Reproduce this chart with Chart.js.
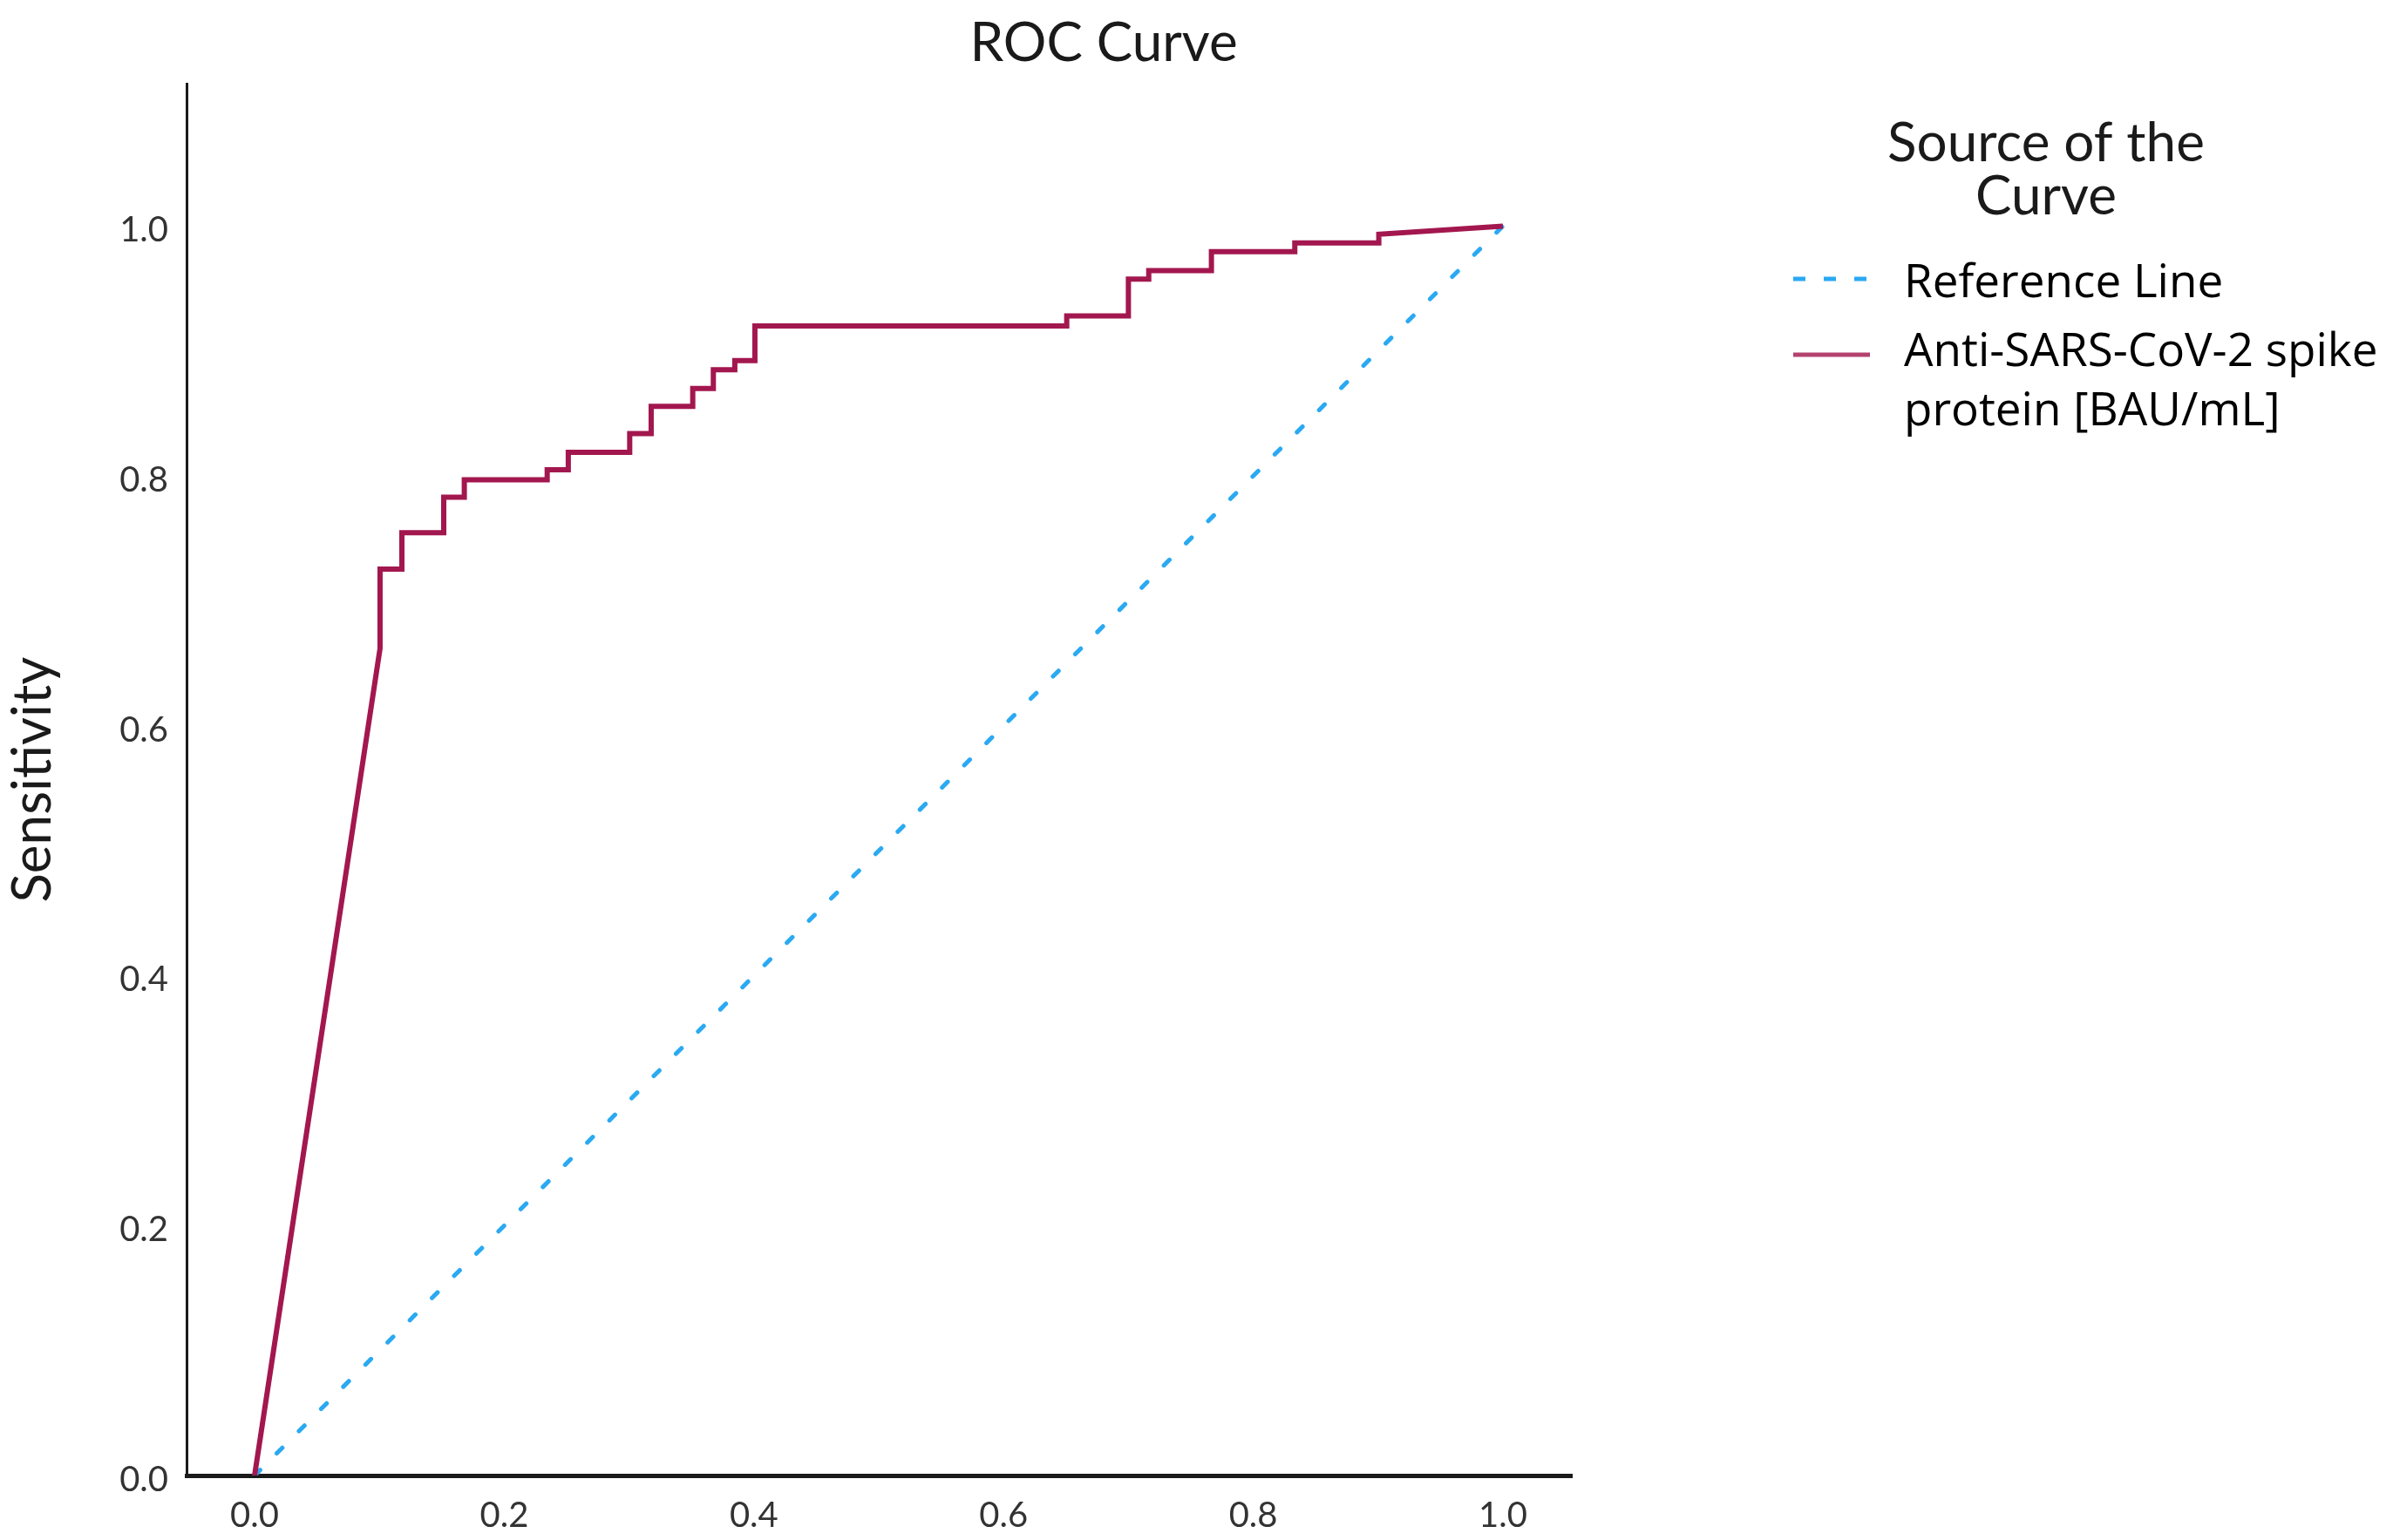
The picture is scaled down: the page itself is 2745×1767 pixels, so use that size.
<!DOCTYPE html>
<html>
<head>
<meta charset="utf-8">
<script src="https://cdn.jsdelivr.net/npm/chart.js@4.4.1/dist/chart.umd.min.js"></script>
<style>
  html, body { margin: 0; padding: 0; background: #fff; }
  #wrap { position: relative; width: 2745px; height: 1767px; }
</style>
</head>
<body>
<div id="wrap"><canvas id="roc"></canvas></div>
<script>
// ROC curve (1 - specificity, sensitivity)
const fpr = [0, 0.1005, 0.1005, 0.118, 0.118, 0.1515, 0.1515, 0.168, 0.168, 0.2344, 0.2344, 0.2513, 0.2513,
  0.3005, 0.3005, 0.3177, 0.3177, 0.351, 0.351, 0.3675, 0.3675, 0.3847, 0.3847, 0.4008, 0.4008,
  0.6506, 0.6506, 0.700, 0.700, 0.7163, 0.7163, 0.7665, 0.7665, 0.8333, 0.8333, 0.9006, 0.9006, 1.0];
const tpr = [0, 0.662, 0.7255, 0.7255, 0.7545, 0.7545, 0.783, 0.783, 0.797, 0.797, 0.805, 0.805, 0.819,
  0.819, 0.834, 0.834, 0.8557, 0.8557, 0.870, 0.870, 0.885, 0.885, 0.8924, 0.8924, 0.920,
  0.920, 0.928, 0.928, 0.9575, 0.9575, 0.9644, 0.9644, 0.9796, 0.9796, 0.9865, 0.9865, 0.9935, 1.0];
const refX = [0, 1];
const refY = [0, 1];

const xTicks = [0, 0.2, 0.4, 0.6, 0.8, 1.0];
const yTicks = [0, 0.2, 0.4, 0.6, 0.8, 1.0];

const legendTitle = ['Source of the', 'Curve'];
const refLabel = ['Reference Line'];
const curveLabel = ['Anti-SARS-CoV-2 spike', 'protein [BAU/mL]'];

const curveColor = '#a3174f';
const refColor = '#2ba9f2';

const toPoints = (xs, ys) => xs.map((x, i) => ({x: x, y: ys[i]}));

// legend drawn by hand on the right, SPSS style
const sideLegend = {
  id: 'sideLegend',
  afterDraw(chart) {
    const ctx = chart.ctx;
    ctx.save();
    ctx.fillStyle = '#1a1a1a';
    ctx.textBaseline = 'middle';
    ctx.font = '62px Lato';
    ctx.textAlign = 'center';
    ctx.fillText(legendTitle[0], 2347, 165);
    ctx.fillText(legendTitle[1], 2347, 226);

    ctx.font = '53px "Open Sans"';
    ctx.textAlign = 'left';
    ctx.fillStyle = '#000';

    // reference line sample
    ctx.strokeStyle = refColor;
    ctx.lineWidth = 5;
    ctx.setLineDash([14, 21]);
    ctx.beginPath();
    ctx.moveTo(2057, 320);
    ctx.lineTo(2146, 320);
    ctx.stroke();
    ctx.fillText(refLabel[0], 2184, 326);

    // curve sample
    ctx.setLineDash([]);
    ctx.strokeStyle = '#b3426f';
    ctx.lineWidth = 5;
    ctx.beginPath();
    ctx.moveTo(2057, 407);
    ctx.lineTo(2145, 407);
    ctx.stroke();
    curveLabel.forEach((t, i) => ctx.fillText(t, 2184, 405 + i * 68));
    ctx.restore();
  }
};

const ctx = document.getElementById('roc').getContext('2d');
const chart = new Chart(ctx, {
  type: 'scatter',
  data: {
    datasets: [{
      label: curveLabel.join(' '),
      data: toPoints(fpr, tpr),
      showLine: true,
      borderColor: curveColor,
      borderWidth: 6,
      borderJoinStyle: 'miter',
      pointRadius: 0,
      tension: 0,
      order: 0,
      xAxisID: 'x',
      yAxisID: 'y'
    }, {
      label: refLabel[0],
      data: toPoints(refX, refY),
      showLine: true,
      borderColor: refColor,
      borderWidth: 5,
      borderCapStyle: 'round',
      borderDash: [9, 27],
      pointRadius: 0,
      order: 1,
      xAxisID: 'x',
      yAxisID: 'y'
    }]
  },
  options: {
    responsive: true,
    maintainAspectRatio: false,
    animation: false,
    layout: {padding: {left: 0, right: 213, top: 0, bottom: 0}},
    plugins: {
      legend: {display: false},
      tooltip: {enabled: false},
      title: {
        display: true,
        text: 'ROC Curve',
        color: '#1a1a1a',
        font: {family: 'Lato', size: 62, weight: 'normal'},
        padding: {top: 13, bottom: 9}
      }
    },
    scales: {
      x: {
        type: 'linear',
        min: -0.0545,
        max: 1.0552,
        grid: {display: false, drawTicks: false},
        border: {display: true, color: '#1a1a1a', width: 5},
        afterBuildTicks: s => { s.ticks = xTicks.map(v => ({value: v})); },
        afterFit: s => { s.height = 74; },
        ticks: {
          padding: 22,
          color: '#333',
          font: {family: 'Lato', size: 40},
          callback: v => Number(v).toFixed(1)
        }
      },
      y: {
        type: 'linear',
        min: 0,
        max: 1.1137,
        grid: {display: false, drawTicks: false},
        border: {display: true, color: '#1a1a1a', width: 3},
        afterBuildTicks: s => { s.ticks = yTicks.map(v => ({value: v})); },
        afterFit: s => { s.width = 214; },
        title: {
          display: true,
          text: 'Sensitivity',
          color: '#1a1a1a',
          font: {family: 'Lato', size: 62},
          padding: {top: 1, bottom: 0}
        },
        ticks: {
          padding: 21,
          labelOffset: 5,
          color: '#333',
          font: {family: 'Lato', size: 40},
          callback: v => Number(v).toFixed(1)
        }
      },
      yRight: {
        type: 'linear',
        position: 'right',
        display: true,
        grid: {display: false, drawTicks: false},
        border: {display: false},
        ticks: {display: false},
        afterFit: s => { s.width = 729; }
      }
    }
  },
  plugins: [sideLegend]
});
</script>
</body>
</html>
